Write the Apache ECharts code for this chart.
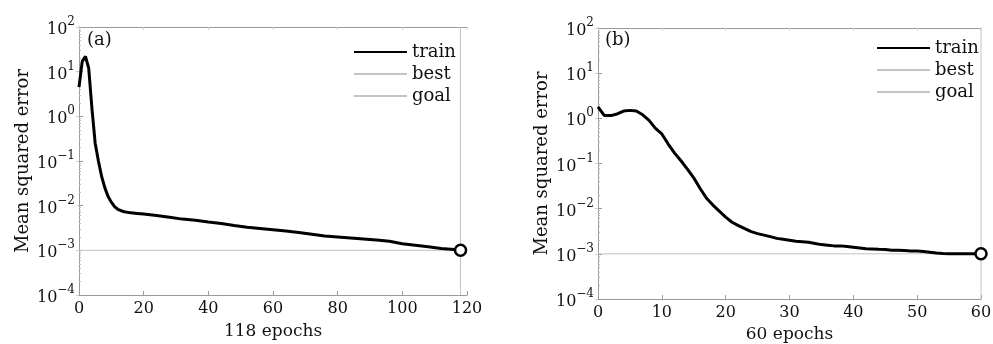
<!DOCTYPE html>
<html>
<head>
<meta charset="utf-8">
<style>
  html, body { margin: 0; padding: 0; background: #fff; }
  #main { width: 993px; height: 344px; }
</style>
<script src="https://cdn.jsdelivr.net/npm/echarts@6/dist/echarts.min.js"></script>
</head>
<body>
<div id="main"></div>
<script>
// panel (a): 118 epochs
var epochsA = [0, 1, 2, 3, 4, 5, 6, 7, 8, 9, 10, 11, 12, 13, 14, 16, 18, 20, 24, 28, 32, 36, 40, 44, 48, 52, 56, 60, 64, 68, 72, 76, 80, 84, 88, 92, 96, 100, 104, 108, 112, 116, 118];
var trainA = [4.5, 17, 22, 12, 1.5, 0.25, 0.1, 0.045, 0.025, 0.016, 0.012, 0.0095, 0.0083, 0.0077, 0.0073, 0.0069, 0.0067, 0.0065, 0.006, 0.0055, 0.005, 0.0047, 0.0043, 0.004, 0.0036, 0.0033, 0.0031, 0.0029, 0.0027, 0.0025, 0.0023, 0.0021, 0.002, 0.0019, 0.0018, 0.0017, 0.0016, 0.0014, 0.0013, 0.0012, 0.0011, 0.00105, 0.001];
// panel (b): 60 epochs
var epochsB = [0, 1, 2, 3, 4, 5, 6, 7, 8, 9, 10, 11, 12, 13, 14, 15, 16, 17, 18, 19, 20, 21, 22, 23, 24, 25, 26, 27, 28, 29, 30, 31, 32, 33, 34, 35, 36, 37, 38, 39, 40, 41, 42, 43, 44, 45, 46, 47, 48, 49, 50, 51, 52, 53, 54, 55, 56, 57, 58, 59, 60];
var trainB = [1.8, 1.15, 1.15, 1.25, 1.45, 1.5, 1.45, 1.2, 0.9, 0.6, 0.45, 0.27, 0.17, 0.115, 0.075, 0.048, 0.028, 0.017, 0.012, 0.0088, 0.0065, 0.005, 0.0042, 0.0036, 0.0031, 0.0028, 0.0026, 0.0024, 0.0022, 0.0021, 0.002, 0.0019, 0.00185, 0.0018, 0.0017, 0.0016, 0.00155, 0.0015, 0.0015, 0.00145, 0.0014, 0.00135, 0.0013, 0.00128, 0.00126, 0.00125, 0.0012, 0.0012, 0.00118, 0.00116, 0.00115, 0.00112, 0.00108, 0.00104, 0.00102, 0.00101, 0.001, 0.001, 0.001, 0.001, 0.001];

var goal = 0.001;
var bestEpochA = 118, bestEpochB = 60;
var xMaxA = 120, xMaxB = 60;
var xStepA = 20, xStepB = 10;
var yMin = 1e-4, yMax = 1e2;
var legendNames = ['train', 'best', 'goal'];

var FONT = '"DejaVu Serif", "Liberation Serif", serif';
var AXIS_GRAY = '#9a9a9a';
var LINE_GRAY = '#c4c4c4';

function pairs(xs, ys){
	var out = [];
	for (var i = 0; i < xs.length; i++) out.push([xs[i], ys[i]]);
	return out;
}

function expLabel(v){
	var e = Math.round(Math.log(v) / Math.LN10);
	var s = e < 0 ? '\u2212' + (-e) : '' + e;
	return '{b|10}{s|' + s + '}';
}

var chart = echarts.init(document.getElementById('main'), null, {renderer: 'canvas'});

// fixed plot boxes, no auto shrinking for labels
var grids = [
	{left: 79, top: 27, right: 526, bottom: 49, outerBoundsMode: 'none', containLabel: false},
	{left: 598, top: 28, right: 12, bottom: 45, outerBoundsMode: 'none', containLabel: false}
];

var xAxes = [], yAxes = [], series = [];
var panels = [
	{epochs: epochsA, train: trainA, best: bestEpochA, xMax: xMaxA, step: xStepA, name: '118 epochs', gap: 28},
	{epochs: epochsB, train: trainB, best: bestEpochB, xMax: xMaxB, step: xStepB, name: '60 epochs', gap: 27}
];

panels.forEach(function(p, i){
	// bottom + top x axes
	xAxes.push({
		type: 'value', gridIndex: i, min: 0, max: p.xMax, interval: p.step,
		name: p.name, nameLocation: 'middle', nameGap: p.gap,
		nameTextStyle: {fontFamily: FONT, fontSize: 17, color: '#111'},
		axisLine: {lineStyle: {color: AXIS_GRAY, width: 1}},
		axisTick: {inside: true, length: 4, lineStyle: {color: AXIS_GRAY}},
		axisLabel: {fontFamily: FONT, fontSize: 16, color: '#111', margin: 6},
		splitLine: {show: false}
	});
	xAxes.push({
		type: 'value', gridIndex: i, position: 'top', min: 0, max: p.xMax, interval: p.step,
		axisLine: {lineStyle: {color: AXIS_GRAY, width: 1}},
		axisTick: {inside: true, length: 3, lineStyle: {color: '#d0d0d0'}},
		axisLabel: {show: false}, splitLine: {show: false}
	});
	// left + right y axes
	yAxes.push({
		type: 'log', logBase: 10, gridIndex: i, min: yMin, max: yMax, splitNumber: 6,
		name: 'Mean squared error', nameLocation: 'middle', nameGap: 47,
		nameTextStyle: {fontFamily: FONT, fontSize: 18, color: '#111'},
		axisLine: {lineStyle: {color: AXIS_GRAY, width: 1}},
		axisTick: {inside: true, length: 4, lineStyle: {color: AXIS_GRAY}},
		minorTick: {show: true, splitNumber: 9, length: 2, lineStyle: {color: '#bbb'}},
		axisLabel: {
			margin: 4,
			formatter: expLabel,
			rich: {
				b: {fontFamily: FONT, fontSize: 16, color: '#111', verticalAlign: 'bottom', lineHeight: 22},
				s: {fontFamily: FONT, fontSize: 12, color: '#111', verticalAlign: 'top', lineHeight: 22}
			}
		},
		splitLine: {show: false}
	});
	yAxes.push({
		type: 'log', logBase: 10, gridIndex: i, position: 'right', min: yMin, max: yMax, splitNumber: 6,
		axisLine: {lineStyle: {color: AXIS_GRAY, width: 1}},
		axisTick: {inside: true, length: 3, lineStyle: {color: '#d0d0d0'}},
		axisLabel: {show: false}, splitLine: {show: false}
	});

	var xi = i * 2, yi = i * 2;
	series.push({
		name: 'goal', type: 'line', xAxisIndex: xi, yAxisIndex: yi,
		symbol: 'none', silent: true,
		lineStyle: {color: LINE_GRAY, width: 1},
		itemStyle: {color: LINE_GRAY},
		data: [[0, goal], [p.xMax, goal]], z: 1
	});
	series.push({
		name: 'best', type: 'line', xAxisIndex: xi, yAxisIndex: yi,
		symbol: 'none', silent: true,
		lineStyle: {color: LINE_GRAY, width: 1},
		itemStyle: {color: LINE_GRAY},
		data: [[p.best, yMin], [p.best, yMax]], z: 1
	});
	series.push({
		name: 'train', type: 'line', xAxisIndex: xi, yAxisIndex: yi,
		symbol: 'none', smooth: false,
		lineStyle: {color: '#000', width: 3},
		itemStyle: {color: '#000'},
		data: pairs(p.epochs, p.train), z: 3
	});
	series.push({
		name: 'bestPoint', type: 'scatter', xAxisIndex: xi, yAxisIndex: yi,
		symbol: 'circle', symbolSize: 11,
		itemStyle: {color: '#fff', borderColor: '#000', borderWidth: 2.5, opacity: 1},
		data: [[p.best, p.train[p.train.length - 1]]], z: 4
	});
});

function legendFor(left, top){
	return {
		data: legendNames, orient: 'vertical', left: left, top: top,
		itemWidth: 53, itemHeight: 14, itemGap: 4, selectedMode: false,
		itemStyle: {opacity: 0},
		textStyle: {fontFamily: FONT, fontSize: 18, color: '#111'}
	};
}

var option = {
	animation: false,
	backgroundColor: '#fff',
	title: [
		{text: '(a)', left: 82, top: 26, textStyle: {fontFamily: FONT, fontSize: 18, fontWeight: 'normal', color: '#111'}},
		{text: '(b)', left: 600, top: 26, textStyle: {fontFamily: FONT, fontSize: 18, fontWeight: 'normal', color: '#111'}}
	],
	legend: [legendFor(348, 38), legendFor(871, 34)],
	grid: grids,
	xAxis: xAxes,
	yAxis: yAxes,
	series: series
};

chart.setOption(option);
window.addEventListener('resize', chart.resize);
</script>
</body>
</html>
